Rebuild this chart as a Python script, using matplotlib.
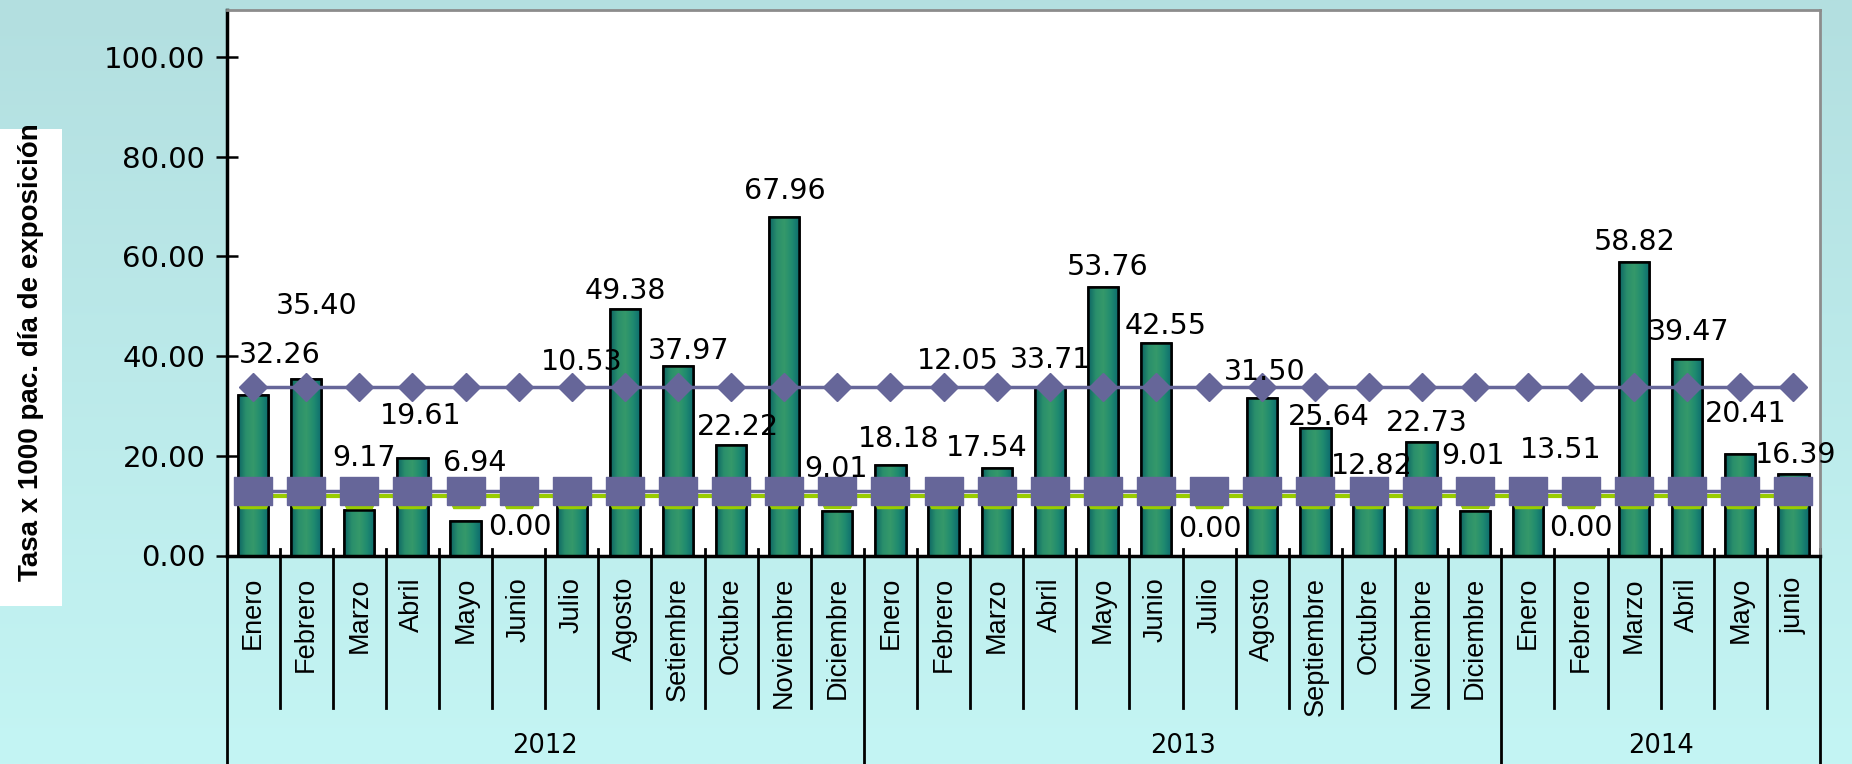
import matplotlib
matplotlib.use("Agg")
import matplotlib.pyplot as plt
import matplotlib.font_manager as fm
from matplotlib.path import Path
from matplotlib.patches import Rectangle
from matplotlib.colors import LinearSegmentedColormap
import numpy as np

# datos
meses_2012 = ['Enero', 'Febrero', 'Marzo', 'Abril', 'Mayo', 'Junio', 'Julio', 'Agosto',
              'Setiembre', 'Octubre', 'Noviembre', 'Diciembre']
meses_2013 = ['Enero', 'Febrero', 'Marzo', 'Abril', 'Mayo', 'Junio', 'Julio', 'Agosto',
              'Septiembre', 'Octubre', 'Noviembre', 'Diciembre']
meses_2014 = ['Enero', 'Febrero', 'Marzo', 'Abril', 'Mayo', 'junio']
anios = ['2012', '2013', '2014']

tasa_2012 = [32.26, 35.40, 9.17, 19.61, 6.94, 0.00, 10.53, 49.38, 37.97, 22.22, 67.96, 9.01]
tasa_2013 = [18.18, 12.05, 17.54, 33.71, 53.76, 42.55, 0.00, 31.50, 25.64, 12.82, 22.73, 9.01]
tasa_2014 = [13.51, 0.00, 58.82, 39.47, 20.41, 16.39]

limite_sup = 33.8
promedio = 13.0
referencia = 12.0

meses = meses_2012 + meses_2013 + meses_2014
tasa = tasa_2012 + tasa_2013 + tasa_2014
n_anio = [len(meses_2012), len(meses_2013), len(meses_2014)]
x = np.arange(len(meses))

# posicion de las etiquetas (movidas a mano como en el original)
lab_dx = [0.51, 0.20, 0.08, 0.15, 0.18, 0.02, 0.18, 0.00, 0.20, 0.13, 0.02, -0.02,
          0.15, 0.27, -0.18, 0.02, 0.09, 0.18, 0.02, 0.04, 0.26, 0.06, 0.10, -0.04,
          0.61, 0.00, 0.01, 0.02, 0.10, 0.04]
lab_y = [40.3, 50.0, 19.5, 27.9, 18.5, 5.7, 38.8, 53.0, 41.1, 25.7, 73.2, 17.3,
         23.3, 39.0, 21.5, 39.3, 57.8, 46.0, 5.4, 36.9, 27.8, 18.0, 26.5, 19.9,
         21.2, 5.6, 62.8, 44.9, 28.3, 20.1]

names = {f.name for f in fm.fontManager.ttflist}
narrow = 'Liberation Sans' if 'Liberation Sans' in names else 'DejaVu Sans'

W, H = 1852, 764
fig = plt.figure(figsize=(W / 100, H / 100), dpi=100)

# fondo degradado
bg = fig.add_axes([0, 0, 1, 1], zorder=-1)
bg_cmap = LinearSegmentedColormap.from_list('bg', ['#b3dfe0', '#c4f5f4'])
bg.imshow(np.linspace(0, 1, 256)[:, None], cmap=bg_cmap, aspect='auto', extent=[0, 1, 0, 1])
bg.axis('off')

left, right, top, base = 226.5, 1820, 9.5, 555.5
ax = fig.add_axes([left / W, (H - base) / H, (right - left) / W, (base - top) / H])
ax.set_facecolor('white')

# barras con degradado
bar_cmap = LinearSegmentedColormap.from_list('bar', ['#0b6464', '#2a8f6c', '#35996a', '#1f8a70', '#0d6c6e'])
grad = np.linspace(0, 1, 64)[None, :]
bars = ax.bar(x, tasa, width=0.57, color='#2a8f6c', edgecolor='black', linewidth=1.8, zorder=2)
for b in bars:
    if b.get_height() <= 0:
        continue
    im = ax.imshow(grad, cmap=bar_cmap, aspect='auto', zorder=2.1,
                   extent=[b.get_x(), b.get_x() + b.get_width(), 0, b.get_height()])
    im.set_clip_path(b)
ax.bar(x, tasa, width=0.57, color='none', edgecolor='black', linewidth=1.8, zorder=2.2)

# lineas de referencia
trap = Path([(-1, -0.45), (1, -0.45), (0.85, -0.8), (-0.85, -0.8), (-1, -0.45)])
rect = Path([(-1, -0.74), (1, -0.74), (1, 0.74), (-1, 0.74), (-1, -0.74)])
ax.plot(x, [referencia] * len(x), color='#99cc00', lw=3, marker=trap, ms=21.6,
        mec='#99cc00', mfc='#99cc00', zorder=3)
ax.plot(x, [promedio] * len(x), color='#666699', lw=2.5, marker=rect, ms=27.2,
        mec='#666699', mfc='#666699', zorder=4)
ax.plot(x, [limite_sup] * len(x), color='#666699', lw=2.5, marker='D', ms=14,
        mec='#666699', mfc='#666699', zorder=5)

# etiquetas de datos
for i, v in enumerate(tasa):
    ax.text(x[i] + lab_dx[i], lab_y[i], f'{v:.2f}', ha='center', va='center',
            fontsize=20.5, color='black', zorder=6)

ax.set_xlim(-0.5, len(x) - 0.5)
ax.set_ylim(0, 109.5)
ax.set_yticks(range(0, 101, 20))
ax.set_yticklabels([f'{t:.2f}' for t in range(0, 101, 20)], fontsize=21)
ax.tick_params(axis='y', length=16.5, width=1.8, direction='inout', pad=7)
ax.set_xticks(x)
ax.set_xticklabels(meses, rotation=90, fontsize=19.5, family=narrow)
ax.tick_params(axis='x', length=0, pad=15.5)

for s in ['left', 'bottom']:
    ax.spines[s].set_linewidth(2.5)
    ax.spines[s].set_color('black')
for s in ['top', 'right']:
    ax.spines[s].set_linewidth(2)
    ax.spines[s].set_color('#8c8c8c')

# separadores del eje de categorias
tr = ax.get_xaxis_transform()
h_ax = base - top
y_short = -(708 - base) / h_ax
y_long = -(H - base) / h_ax
y_up = 7 / h_ax
edges = np.cumsum([0] + n_anio)
for e in range(len(x) + 1):
    xe = e - 0.5
    if e in edges:
        ax.plot([xe, xe], [y_up, y_long], color='black', lw=2, transform=tr, clip_on=False)
    else:
        ax.plot([xe, xe], [y_up, y_short], color='black', lw=2, transform=tr, clip_on=False)

y_anio = -(745.6 - base) / h_ax
for k, a in enumerate(anios):
    xc = (edges[k] + edges[k + 1]) / 2 - 0.5
    ax.text(xc, y_anio, a, transform=tr, ha='center', va='center', fontsize=18.5)

# titulo del eje y en recuadro blanco
fig.patches.append(Rectangle((0, 1 - 606 / H), 62 / W, 477 / H, transform=fig.transFigure,
                             facecolor='white', edgecolor='none', zorder=1))
fig.text(31 / W, 1 - 352 / H, 'Tasa x 1000 pac. día de exposición', rotation=90,
         ha='center', va='center', fontsize=20, fontweight='bold', family=narrow, zorder=2)

fig.savefig('out.png', dpi=100)
